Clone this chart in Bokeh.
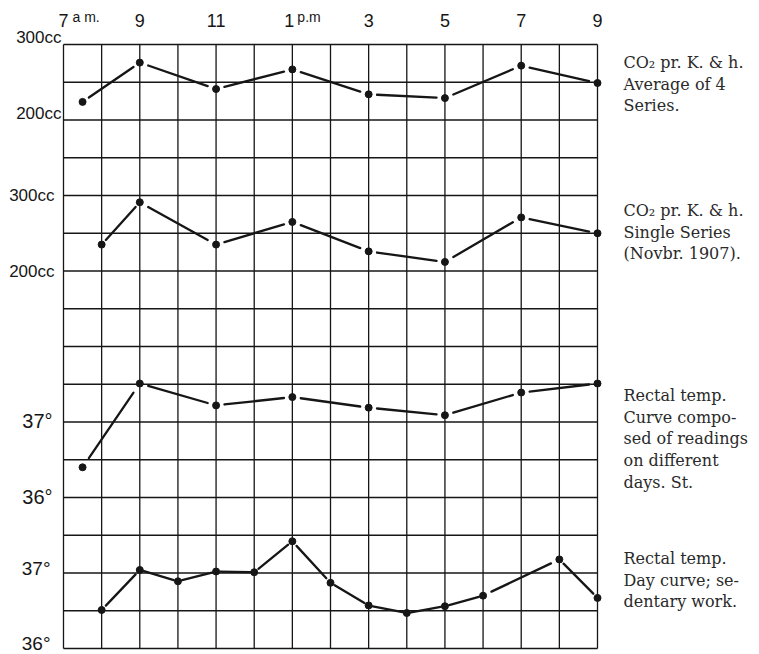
from bokeh.plotting import figure
from bokeh.models import Range1d, Label
from bokeh.embed import file_html
from bokeh.resources import INLINE

# ---------------- data ----------------
co2_avg_hours = [7.5, 9, 11, 13, 15, 17, 19, 21]
co2_avg_cc = [224, 276, 241, 267, 234, 229, 272, 249]

co2_single_hours = [8, 9, 11, 13, 15, 17, 19, 21]
co2_single_cc = [235, 291, 235, 265, 226, 212, 271, 250]

temp_comp_hours = [7.5, 9, 11, 13, 15, 17, 19, 21]
temp_comp_deg = [36.40, 37.51, 37.22, 37.33, 37.19, 37.09, 37.39, 37.51]

temp_day_hours = [8, 9, 10, 11, 12, 13, 14, 15, 16, 17, 18, 20, 21]
temp_day_deg = [36.51, 37.04, 36.89, 37.02, 37.01, 37.42, 36.87, 36.57,
                36.47, 36.56, 36.70, 37.18, 36.67]

hour_ticks = [7, 9, 11, 13, 15, 17, 19, 21]
hour_labels = ["7", "9", "11", "1", "3", "5", "7", "9"]
hour_suffix = {7: "a m.", 13: "p.m"}

cc_ticks = [300, 200]
deg_ticks = [37, 36]

notes_co2_avg = ["CO\u2082 pr. K. & h.", "Average of 4", "Series."]
notes_co2_single = ["CO\u2082 pr. K. & h.", "Single Series", "(Novbr. 1907)."]
notes_temp_comp = ["Rectal temp.", "Curve compo-", "sed of readings",
                   "on different", "days. St."]
notes_temp_day = ["Rectal temp.", "Day curve; se-", "dentary work."]

# ---------------- layout ----------------
W, H = 759, 654
GRID_L, GRID_R, GRID_T, GRID_B = 63, 597, 44, 648   # pixel box of the chart grid
H0, H1 = 7, 21          # first / last hour line
N_ROWS = 16
PX_HOUR = (GRID_R - GRID_L) / (H1 - H0)
PX_ROW = (GRID_B - GRID_T) / N_ROWS
INK = "#161616"

x_lo = H0 - GRID_L / PX_HOUR
x_hi = H1 + (W - GRID_R) / PX_HOUR
y_lo = 0 - (H - GRID_B) / PX_ROW
y_hi = N_ROWS + GRID_T / PX_ROW

p = figure(width=W, height=H, x_range=Range1d(x_lo, x_hi), y_range=Range1d(y_lo, y_hi),
           x_axis_location=None, y_axis_location=None,
           toolbar_location=None, output_backend="svg",
           min_border=0)
p.background_fill_color = "white"
p.border_fill_color = "white"
p.outline_line_color = None
p.xgrid.visible = False
p.ygrid.visible = False

# grid: one vertical line per hour, 16 rows
hours_all = list(range(H0, H1 + 1))
rows_all = list(range(0, N_ROWS + 1))
p.segment(x0=hours_all, y0=[0] * len(hours_all), x1=hours_all, y1=[N_ROWS] * len(hours_all),
          line_color=INK, line_width=1.3)
p.segment(x0=[H0] * len(rows_all), y0=rows_all, x1=[H1] * len(rows_all), y1=rows_all,
          line_color=INK, line_width=1.3)

# hour labels along the top
for t, lab in zip(hour_ticks, hour_labels):
    dx = -3 if t == 13 else 0
    p.add_layout(Label(x=t, y=N_ROWS, x_offset=dx, y_offset=24, text=lab,
                       text_align="center", text_baseline="middle",
                       text_font="Liberation Sans", text_font_size="18px",
                       text_color=INK))
for t, s in hour_suffix.items():
    dx = 9 if t == 7 else 5
    p.add_layout(Label(x=t, y=N_ROWS, x_offset=dx, y_offset=28, text=s,
                       text_align="left", text_baseline="middle",
                       text_font="Liberation Sans", text_font_size="14px",
                       text_color=INK))

# panels: anchor row (counted from the top), value at that row, value per row
panels = [
    dict(name="co2avg", row=0, value=300, step=50, xs=co2_avg_hours, ys=co2_avg_cc,
         ticks=cc_ticks, suffix="cc", size="17px", dx=-2, dy=7, notes=notes_co2_avg, note_top=62),
    dict(name="co2single", row=4, value=300, step=50, xs=co2_single_hours, ys=co2_single_cc,
         ticks=cc_ticks, suffix="cc", size="17px", dx=-9, dy=0, notes=notes_co2_single, note_top=210),
    dict(name="tcomp", row=10, value=37, step=0.5, xs=temp_comp_hours, ys=temp_comp_deg,
         ticks=deg_ticks, suffix="\u00b0", size="20px", dx=-11, dy=1, notes=notes_temp_comp, note_top=395),
    dict(name="tday", row=14, value=37, step=0.5, xs=temp_day_hours, ys=temp_day_deg,
         ticks=deg_ticks, suffix="\u00b0", size="19px", dx=-13, dy=5, notes=notes_temp_day, note_top=558),
]

GAP = 0.11
for pn in panels:
    bot_v = pn["value"] - (N_ROWS - pn["row"]) * pn["step"]   # value at the bottom grid line
    p.extra_y_ranges[pn["name"]] = Range1d(bot_v + y_lo * pn["step"], bot_v + y_hi * pn["step"])

    xs, ys = pn["xs"], pn["ys"]
    x0, y0, x1, y1 = [], [], [], []
    for i in range(len(xs) - 1):
        ddx = xs[i + 1] - xs[i]
        ddy = ys[i + 1] - ys[i]
        x0.append(xs[i] + GAP * ddx)
        y0.append(ys[i] + GAP * ddy)
        x1.append(xs[i + 1] - GAP * ddx)
        y1.append(ys[i + 1] - GAP * ddy)
    p.segment(x0=x0, y0=y0, x1=x1, y1=y1, y_range_name=pn["name"],
              line_color=INK, line_width=2.3, line_cap="round")
    p.scatter(xs, ys, y_range_name=pn["name"], size=7, marker="circle",
              fill_color=INK, line_color=INK)

    for t in pn["ticks"]:
        p.add_layout(Label(x=H0, y=t, y_range_name=pn["name"], x_offset=pn["dx"],
                           y_offset=pn["dy"], text=f"{t}{pn['suffix']}",
                           text_align="right", text_baseline="middle",
                           text_font="Liberation Sans", text_font_size=pn["size"],
                           text_color=INK))

    for k, line in enumerate(pn["notes"]):
        py = pn["note_top"] + k * 21.7
        ydata = N_ROWS - (py - GRID_T) / PX_ROW
        p.add_layout(Label(x=H1, y=ydata, x_offset=26, text=line,
                           text_align="left", text_baseline="middle",
                           text_font="DejaVu Serif", text_font_size="16px",
                           text_color="#2a2a2a"))

open("out.html", "w").write(file_html(p, INLINE))
